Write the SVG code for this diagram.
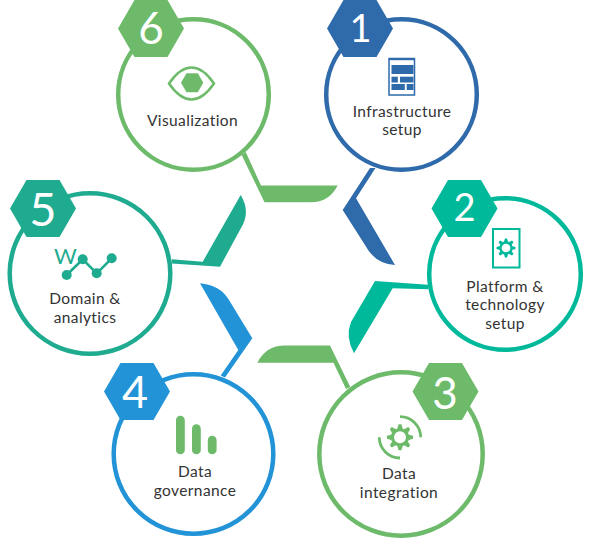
<svg xmlns="http://www.w3.org/2000/svg" xmlns:xlink="http://www.w3.org/1999/xlink" width="590" height="538" viewBox="0 0 590 538">
<style>
.ring{fill:#fff;stroke-width:4.5}
.num{font-family:"Lato","Open Sans","Liberation Sans",sans-serif;fill:#fff;text-anchor:middle}
.lab{font-family:"Lato","Open Sans","Liberation Sans",sans-serif;font-size:15.5px;letter-spacing:.4px;fill:#333;text-anchor:middle}
</style>
<defs>
<polygon id="hex" points="-33,0 -16.5,-28.5 16.5,-28.5 33,0 16.5,28.5 -16.5,28.5"/>
<polygon id="tooth" points="0.62,-0.22 1,-0.11 1,0.11 0.62,0.22"/>
<g id="gear">
<circle r="0.58" fill="none" stroke="currentColor" stroke-width="0.24"/>
<use xlink:href="#tooth" href="#tooth"/>
<use xlink:href="#tooth" href="#tooth" transform="rotate(45)"/>
<use xlink:href="#tooth" href="#tooth" transform="rotate(90)"/>
<use xlink:href="#tooth" href="#tooth" transform="rotate(135)"/>
<use xlink:href="#tooth" href="#tooth" transform="rotate(180)"/>
<use xlink:href="#tooth" href="#tooth" transform="rotate(225)"/>
<use xlink:href="#tooth" href="#tooth" transform="rotate(270)"/>
<use xlink:href="#tooth" href="#tooth" transform="rotate(315)"/>
</g>
</defs>
<rect width="590" height="538" fill="#fff"/>
<g id="connectors">
<path fill="#2f6aaa" d="M342.7,210 L370,168 L375.5,168 L356,198.3 L395,265 Q375,264 365,245 Z"/>
<path fill="#00b99a" d="M428,284.8 L375,281 L351,322 Q345,337 354,353.3 L392.7,288.3 L428,289.2 Z"/>
<path fill="#6dbb6a" d="M350.3,387 L346,389 L333.5,362.7 L257.3,362.7 Q266,346 283,345.5 L330,345.5 Z"/>
<path fill="#2193d6" d="M200,283.3 Q220,285 229,300 L252.3,338.3 L225,377.5 L220.7,375.5 L238.3,350 Z"/>
<path fill="#1fab90" d="M171.7,259.3 L202.7,261.7 L240.7,195 Q251,212 241,228 L220,266.7 L171.7,263.6 Z"/>
<path fill="#6dbb6a" d="M241.7,155 L245.7,152 L261,185.5 L337.7,185.5 Q329,202.3 311,202.3 L264.5,202.3 Z"/>
</g>
<g id="node-1" color="#2f6aaa">
<circle class="ring" cx="401.5" cy="94.5" r="75.3" stroke="#2f6aaa"/>
<use xlink:href="#hex" href="#hex" x="360" y="28.5" fill="#2f6aaa"/>
<text class="num" x="360.5" y="42" font-size="38px">1</text>
<g fill="#2f6aaa">
<rect x="389" y="58.5" width="25.5" height="36.5" fill="none" stroke="#2f6aaa" stroke-width="1.5"/>
<rect x="389" y="58" width="25.5" height="2.2"/>
<rect x="391.5" y="65" width="22" height="9"/>
<rect x="391.5" y="76.7" width="6.3" height="5.8"/>
<rect x="400" y="76.7" width="13.5" height="5.8"/>
<rect x="391.5" y="84" width="13.3" height="6"/>
<rect x="406.7" y="84" width="6.8" height="6"/>
</g>
<text class="lab" x="402" y="117">Infrastructure</text>
<text class="lab" x="402" y="135">setup</text>
</g>
<g id="node-2" color="#00b99a">
<circle class="ring" cx="505" cy="274" r="75.8" stroke="#00b99a"/>
<use xlink:href="#hex" href="#hex" x="464.5" y="208.5" fill="#00b99a"/>
<text class="num" x="464.5" y="220.5" font-size="38px">2</text>
<rect x="493" y="229" width="26.5" height="38.5" fill="none" stroke="#00b99a" stroke-width="2"/>
<use xlink:href="#gear" href="#gear" transform="translate(506,248) scale(9.5)" fill="#00b99a"/>
<text class="lab" x="505" y="292">Platform &amp;</text>
<text class="lab" x="505" y="310">technology</text>
<text class="lab" x="505" y="329">setup</text>
</g>
<g id="node-3" color="#6dbb6a">
<circle class="ring" cx="401" cy="454" r="81.7" stroke="#6dbb6a"/>
<use xlink:href="#hex" href="#hex" x="445.5" y="391.5" fill="#6dbb6a"/>
<text class="num" x="445" y="408.5" font-size="44px">3</text>
<use xlink:href="#gear" href="#gear" transform="translate(400,437.3) scale(13)" fill="#6dbb6a"/>
<path d="M400,416.6 A20.7,20.7 0 0 1 420.7,437.3 M379.3,437.3 A20.7,20.7 0 0 0 400,458" fill="none" stroke="#6dbb6a" stroke-width="2.8"/>
<text class="lab" x="399" y="479">Data</text>
<text class="lab" x="399" y="498">integration</text>
</g>
<g id="node-4">
<circle class="ring" cx="193.5" cy="454" r="79.8" stroke="#2193d6"/>
<use xlink:href="#hex" href="#hex" x="137" y="391.5" fill="#2193d6"/>
<text class="num" x="135" y="408" font-size="45px">4</text>
<g fill="#6dbb6a">
<rect x="176" y="415.7" width="8.8" height="38.6" rx="4.4"/>
<rect x="192" y="424.3" width="8.8" height="30" rx="4.4"/>
<rect x="207.8" y="435.7" width="8.8" height="18.6" rx="4.4"/>
</g>
<text class="lab" x="195" y="477">Data</text>
<text class="lab" x="195" y="496">governance</text>
</g>
<g id="node-5">
<circle class="ring" cx="90" cy="273.5" r="80.3" stroke="#1fab90"/>
<use xlink:href="#hex" href="#hex" x="43" y="208.5" fill="#1fab90"/>
<text class="num" x="43" y="226" font-size="47px">5</text>
<text x="65.5" y="264" text-anchor="middle" font-family="Lato,'Open Sans',sans-serif" font-size="22px" fill="#1fab90">W</text>
<polyline points="66.7,275 82.7,259.3 96.7,273.3 111.7,258.3" fill="none" stroke="#1fab90" stroke-width="2.6"/>
<g fill="#1fab90">
<circle cx="66.7" cy="275" r="5"/>
<circle cx="82.7" cy="259.3" r="5"/>
<circle cx="96.7" cy="273.3" r="5"/>
<circle cx="111.7" cy="258.3" r="5"/>
</g>
<text class="lab" x="85" y="304">Domain &amp;</text>
<text class="lab" x="85" y="323">analytics</text>
</g>
<g id="node-6">
<circle class="ring" cx="193.5" cy="94.5" r="75.3" stroke="#6dbb6a"/>
<use xlink:href="#hex" href="#hex" x="151" y="28.5" fill="#6dbb6a"/>
<text class="num" x="151" y="44" font-size="44px">6</text>
<path d="M169,83.5 Q180,67.5 191.5,67.5 Q203,67.5 214,83.5 Q203,99.5 191.5,99.5 Q180,99.5 169,83.5 Z" fill="none" stroke="#6dbb6a" stroke-width="2.5"/>
<polygon points="181,82.8 186.5,73.3 197.8,73.3 203.3,82.8 197.8,92.3 186.5,92.3" fill="#6dbb6a"/>
<text class="lab" x="192.5" y="125.5">Visualization</text>
</g>
</svg>
